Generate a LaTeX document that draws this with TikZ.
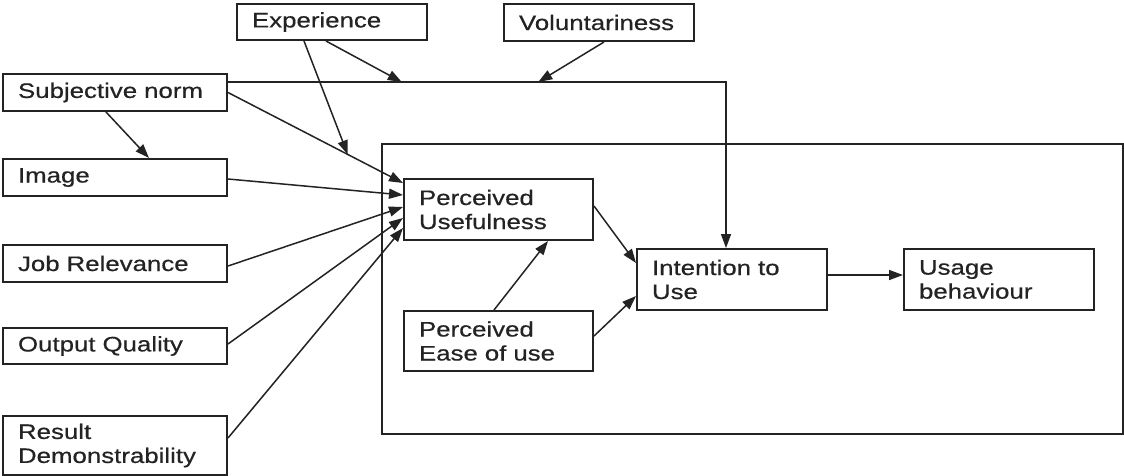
\documentclass[tikz,border=0pt]{standalone}
\usepackage{fontspec}
\setmainfont[FakeStretch=1.23,FakeBold=0.5]{Liberation Sans}
\usetikzlibrary{arrows.meta,calc}
\definecolor{ink}{RGB}{35,35,35}
\begin{document}
\begin{tikzpicture}[x=1pt,y=-1pt,
  box/.style={draw=ink,line width=2pt,rectangle,anchor=north west,
    inner xsep=15pt,inner ysep=0pt,align=left,text=ink,
    font=\fontsize{21}{24}\selectfont},
  link/.style={draw=ink,line width=1.5pt,-{Triangle[length=14pt,width=10pt]}}]
\useasboundingbox (0,0) rectangle (1124,475);
\fill[white] (0,0) rectangle (1124,475);

% enclosing frame of the core model
\node[draw=ink,line width=2.2pt,anchor=north west,minimum width=741pt,minimum height=290pt,inner sep=0pt] (frame) at (381,143) {};

% external determinants
\newcommand{\mkbox}[6]{%
  \node[box,minimum width=#4pt,minimum height=#5pt,text width=#4pt-30pt] (#1) at (#2,#3) {#6};}
\mkbox{exp}{236}{3}{190}{36}{Experience}
\mkbox{vol}{503}{3}{190}{37}{Voluntariness}
\mkbox{sn}{2}{73}{224}{37}{Subjective norm}
\mkbox{img}{2}{158}{224}{37}{Image}
\mkbox{jr}{2}{244}{224}{37}{Job Relevance}
\mkbox{oq}{2}{327}{224}{36}{Output Quality}
\mkbox{rd}{2}{415}{224}{59}{Result\\Demonstrability}

% core model
\mkbox{pu}{403}{178}{189}{61}{Perceived\\Usefulness}
\mkbox{peou}{403}{310}{189}{60}{Perceived\\Ease of use}
\mkbox{itu}{636}{248}{190}{61}{Intention to\\Use}
\mkbox{ub}{903}{248}{190}{61}{Usage\\behaviour}

% subjective norm routed straight to intention
\coordinate (snout) at ([yshift=10.5pt]sn.east);
\coordinate (ituin) at ([xshift=-6pt]itu.north);
\coordinate (bend) at (ituin |- snout);
\draw[link] (snout) -- (bend) -- (ituin);

% subjective norm to perceived usefulness
\coordinate (snpu) at (sn.east);
\coordinate (puin1) at ([yshift=26.5pt]pu.west);
\draw[link] (snpu) -- (puin1);

% moderators
\coordinate (m1) at ($(snout)!0.349!(bend)$);
\coordinate (m2) at ($(snout)!0.623!(bend)$);
\coordinate (m3) at ($(snpu)!0.684!(puin1)$);
\draw[link] ([xshift=-6pt]exp.south) -- (m1);
\draw[link] ([xshift=-28pt]exp.south) -- (m3);
\draw[link] ([xshift=5pt]vol.south) -- (m2);

\draw[link] ([xshift=-9pt]sn.south) -- ([xshift=34pt]img.north);
\draw[link] ([yshift=-1.5pt]img.east) -- ([yshift=14.5pt]pu.west);
\draw[link] ([yshift=-2.5pt]jr.east) -- ([yshift=2.5pt]pu.west);
\draw[link] ([yshift=2pt]oq.east) -- ([yshift=-8.5pt]pu.west);
\draw[link] ([yshift=7.5pt]rd.east) -- ([yshift=-18.5pt]pu.west);

\draw[link] ([yshift=3.5pt]pu.east) -- ([yshift=16.5pt]itu.west);
\draw[link] ([xshift=-4.5pt]peou.north) -- ([xshift=49.5pt]pu.south);
\draw[link] ([yshift=5pt]peou.east) -- ([yshift=-16.5pt]itu.west);
\draw[link] ([yshift=4.5pt]itu.east) -- ([yshift=4.5pt]ub.west);
\end{tikzpicture}
\end{document}
